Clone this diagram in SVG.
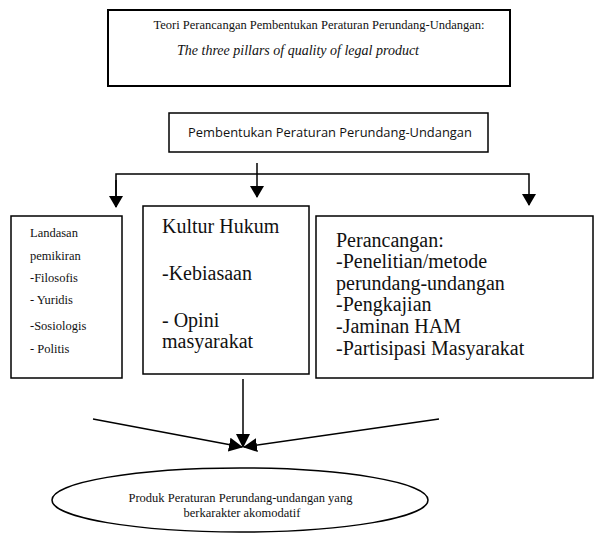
<svg xmlns="http://www.w3.org/2000/svg" width="595" height="534" viewBox="0 0 595 534">
<style>
.box{fill:#fff;stroke:#000;stroke-width:1.5}
.ln{fill:none;stroke:#000;stroke-width:1.5}
.t{font-family:"Liberation Serif","Times New Roman",serif;fill:#111}
.s{font-family:"Open Sans","Liberation Sans",sans-serif;fill:#111}
</style>
<defs>
<marker id="ah" viewBox="0 0 12 14" refX="11" refY="7" markerWidth="12" markerHeight="14" markerUnits="userSpaceOnUse" orient="auto">
<path d="M0,0 L12,7 L0,14 Z" fill="#000"/>
</marker>
<marker id="ahs" viewBox="0 0 14 14" refX="13" refY="7" markerWidth="14" markerHeight="14" markerUnits="userSpaceOnUse" orient="auto">
<path d="M0,0 L14,7 L0,14 Z" fill="#000"/>
</marker>
</defs>
<g id="connectors">
<polyline class="ln" points="116,207 116,174 529,174 529,205" marker-end="url(#ah)"/>
<line class="ln" x1="116" y1="180" x2="116" y2="207" marker-end="url(#ah)"/>
<line class="ln" x1="257" y1="163" x2="257" y2="197" marker-end="url(#ah)"/>
<line class="ln" x1="243" y1="379" x2="243" y2="447" marker-end="url(#ahs)"/>
<line class="ln" x1="93" y1="419" x2="242" y2="447" marker-end="url(#ahs)"/>
<line class="ln" x1="439" y1="419" x2="244" y2="447" marker-end="url(#ahs)"/>
</g>
<g id="node-teori">
<rect class="box" x="108" y="10" width="402" height="76" style="stroke-width:2"/>
<text class="t" x="319" y="29" font-size="12.5" text-anchor="middle">Teori Perancangan Pembentukan Peraturan Perundang-Undangan:</text>
<text class="t" x="298" y="55" font-size="14" font-style="italic" text-anchor="middle">The three pillars of quality of legal product</text>
</g>
<g id="node-pembentukan">
<rect class="box" x="169" y="113" width="319" height="39"/>
<text class="s" x="330" y="137" font-size="12.9" text-anchor="middle">Pembentukan Peraturan Perundang-Undangan</text>
</g>
<g id="node-landasan">
<rect class="box" x="11" y="216" width="111" height="162"/>
<text class="t" font-size="12.5">
<tspan x="30" y="237">Landasan</tspan>
<tspan x="30" y="260">pemikiran</tspan>
<tspan x="30" y="282">-Filosofis</tspan>
<tspan x="30" y="304">- Yuridis</tspan>
<tspan x="30" y="330">-Sosiologis</tspan>
<tspan x="30" y="353">- Politis</tspan>
</text>
</g>
<g id="node-kultur">
<rect class="box" x="143" y="206" width="166" height="168"/>
<text class="t" font-size="20">
<tspan x="162" y="233">Kultur Hukum</tspan>
<tspan x="162" y="280">-Kebiasaan</tspan>
<tspan x="162" y="327">- Opini</tspan>
<tspan x="162" y="348">masyarakat</tspan>
</text>
</g>
<g id="node-perancangan">
<rect class="box" x="316" y="216" width="277" height="162"/>
<text class="t" font-size="20">
<tspan x="336" y="247">Perancangan:</tspan>
<tspan x="336" y="268">-Penelitian/metode</tspan>
<tspan x="336" y="290">perundang-undangan</tspan>
<tspan x="336" y="311">-Pengkajian</tspan>
<tspan x="336" y="333">-Jaminan HAM</tspan>
<tspan x="336" y="355">-Partisipasi Masyarakat</tspan>
</text>
</g>
<g id="node-produk">
<ellipse class="box" cx="240" cy="500" rx="188" ry="32"/>
<text class="t" font-size="12.5" text-anchor="middle">
<tspan x="242" y="502">Produk Peraturan Perundang-undangan yang</tspan>
<tspan x="242" y="517">berkarakter akomodatif</tspan>
</text>
</g>
</svg>
